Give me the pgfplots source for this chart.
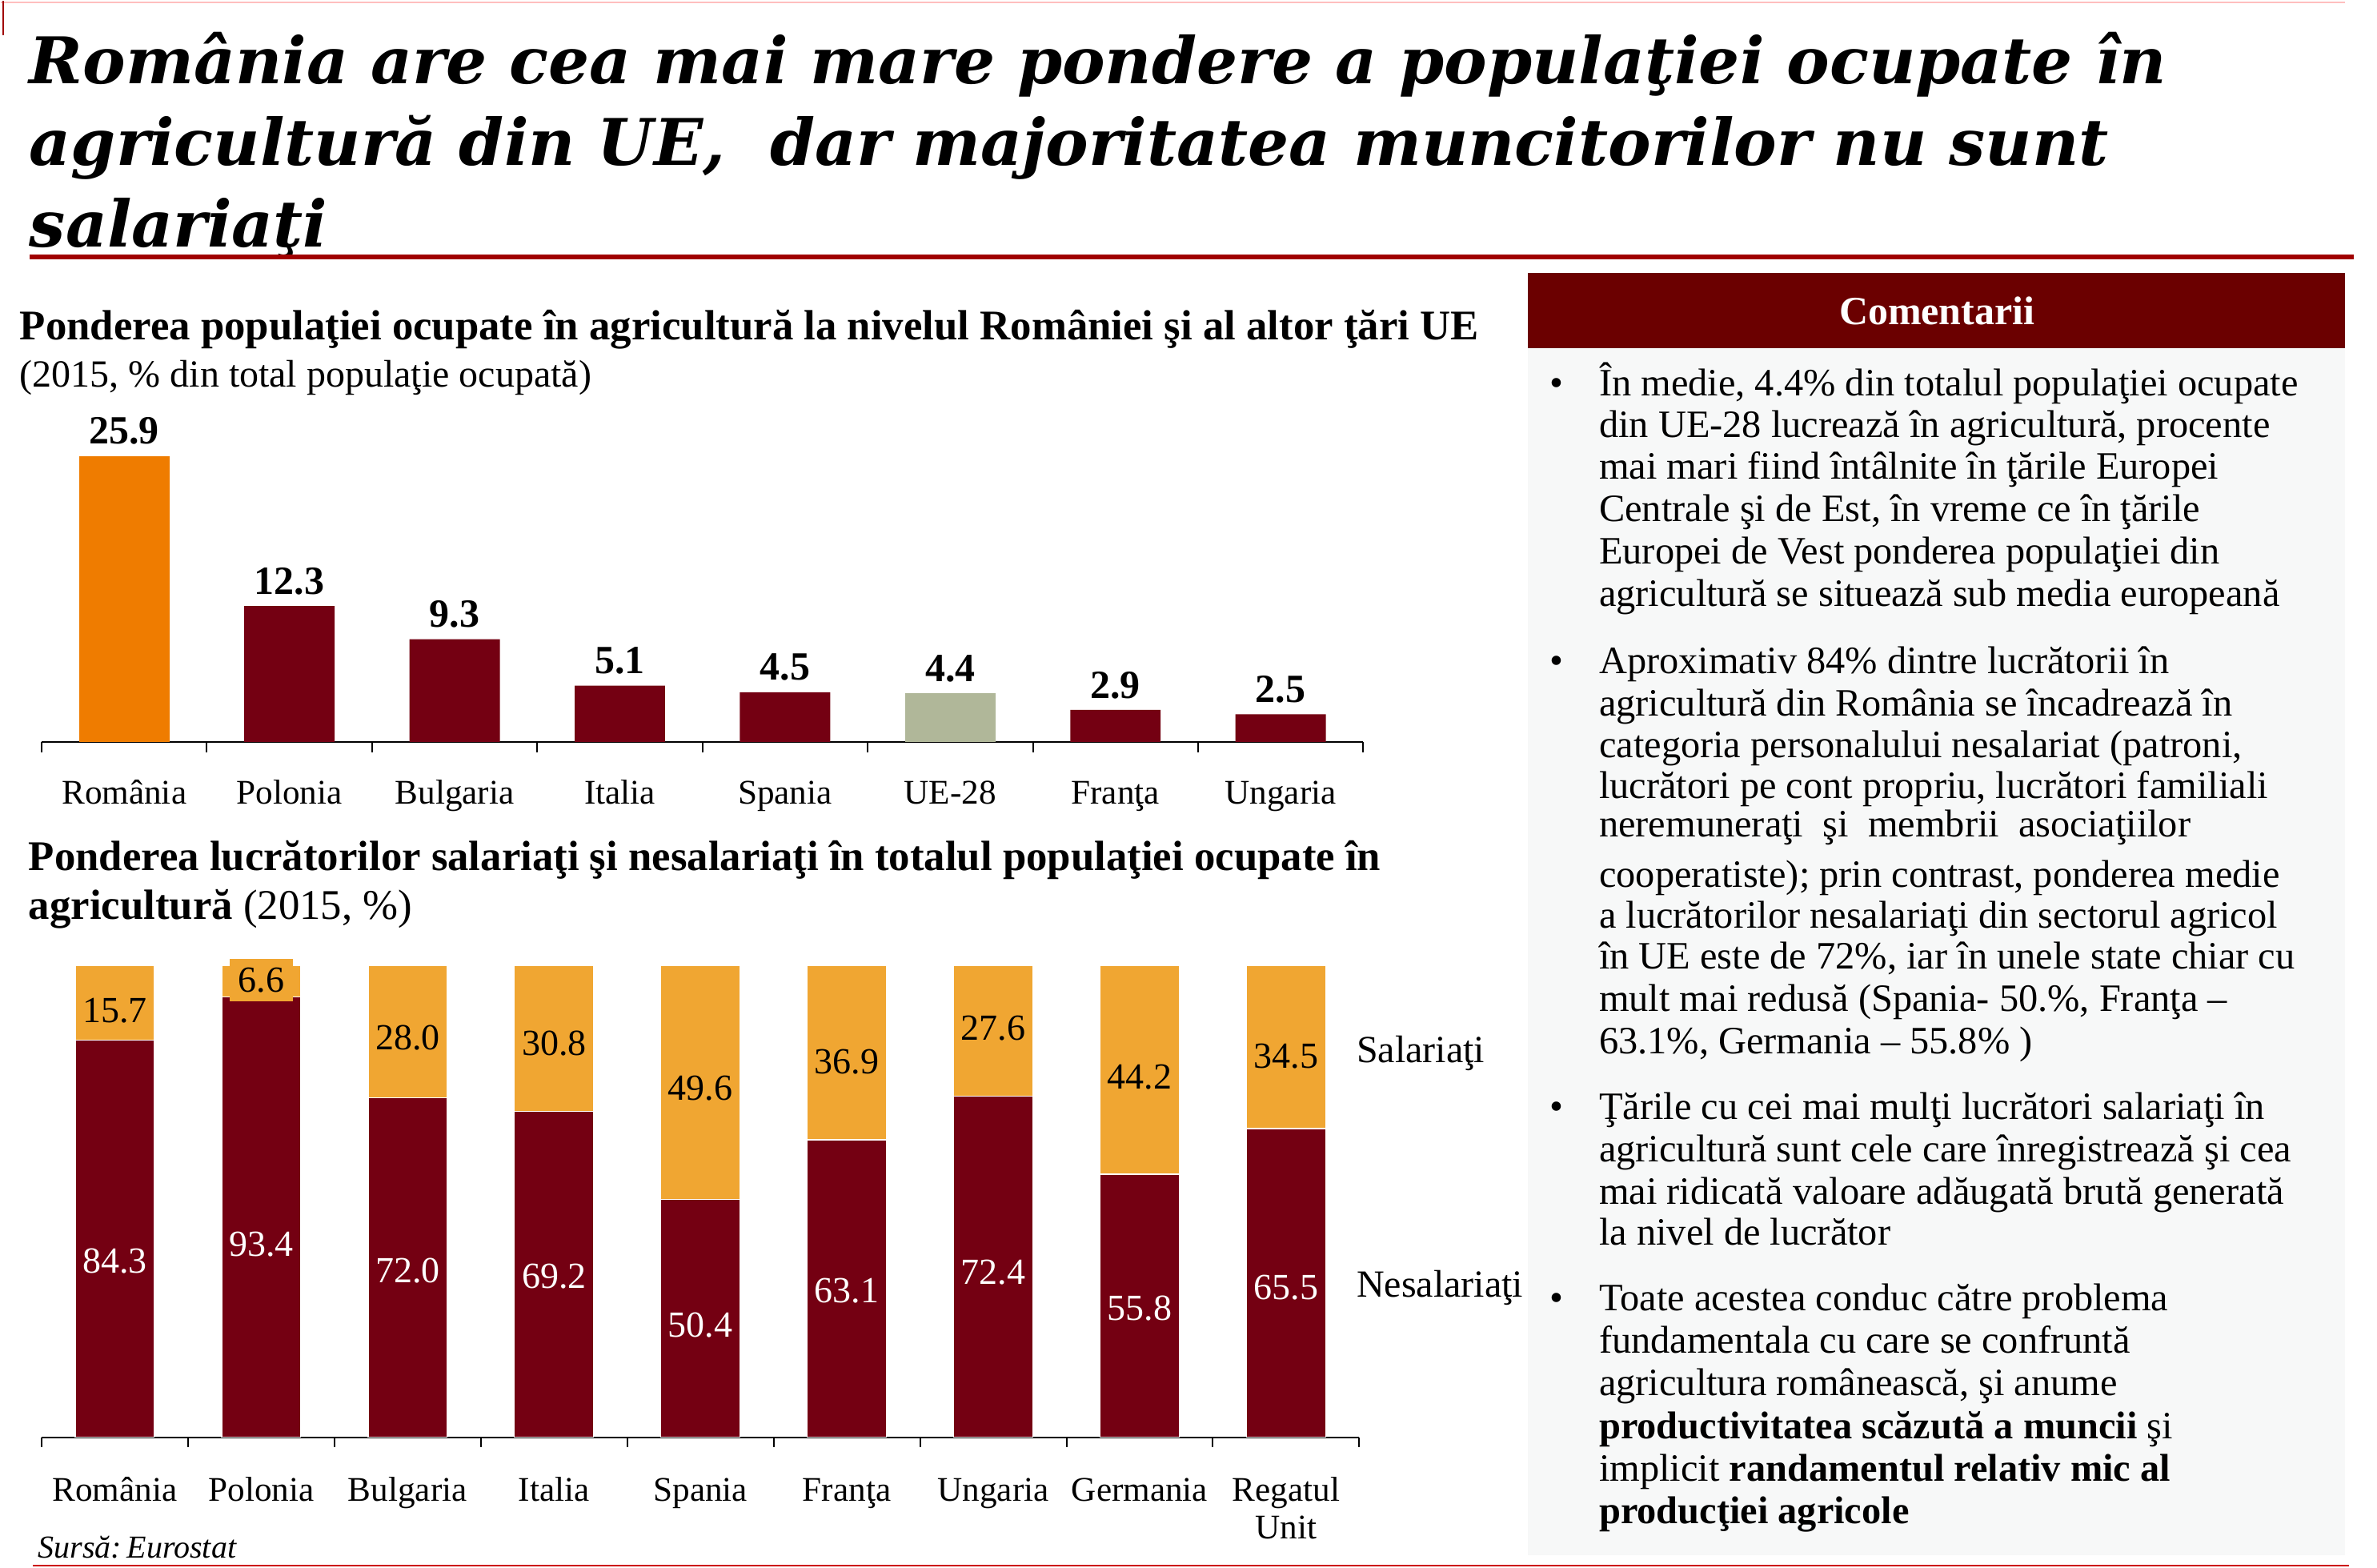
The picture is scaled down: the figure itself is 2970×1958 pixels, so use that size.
\documentclass[border=0pt]{standalone}
\usepackage{fontspec}
\setmainfont{Liberation Serif}
\newfontfamily\titlefont{DejaVu Serif}
\usepackage{pgfplots}
\pgfplotsset{compat=1.18}
\definecolor{darkred}{RGB}{116,0,18}
\definecolor{orangeA}{RGB}{239,124,0}
\definecolor{grayg}{RGB}{176,183,153}
\definecolor{orangeB}{RGB}{240,166,50}
\definecolor{headred}{RGB}{107,0,0}
\definecolor{rulered}{RGB}{160,0,0}
\definecolor{boxbg}{RGB}{247,248,248}
\newcommand\cmfont{\fontsize{12.1}{13}\selectfont}
\newcommand\cm[2]{\node[anchor=base west, inner sep=0pt, font=\cmfont] at (1997,#1) {#2};}
\newcommand\bl[1]{\node[anchor=base, inner sep=0pt, font=\cmfont] at (1945,#1) {•};}
\begin{document}
\begin{tikzpicture}
\begin{scope}[x=0.25pt,y=-0.25pt,yshift=489.5pt]
\fill[white] (0,0) rectangle (2970,1958);
\draw[red!25, line width=0.5pt] (0,2) -- (2930,2);
\draw[rulered, line width=0.6pt] (3,0) -- (3,43);
% title
\begin{scope}[every node/.style={anchor=base west, inner sep=0pt, font=\titlefont\bfseries\itshape\fontsize{20.1}{25}\selectfont}]
\node at (35,103) {România are cea mai mare pondere a populaţiei ocupate în};
\node at (35,205) {agricultură din UE,\ \ dar majoritatea muncitorilor nu sunt};
\node at (35,307) {salariaţi};
\end{scope}
\draw[rulered, line width=1.5pt] (36,320) -- (2941,320);
% chart titles
\node[anchor=base west, inner sep=0pt, font=\fontsize{13.2}{15}\selectfont\bfseries] at (23,423) {Ponderea populaţiei ocupate în agricultură la nivelul României şi al altor ţări UE};
\node[anchor=base west, inner sep=0pt, font=\fontsize{12}{14}\selectfont] at (23,482) {(2015, \% din total populaţie ocupată)};
\node[anchor=base west, inner sep=0pt, font=\fontsize{13.2}{15}\selectfont\bfseries] at (34,1087) {Ponderea lucrătorilor salariaţi şi nesalariaţi în totalul populaţiei ocupate în};
\node[anchor=base west, inner sep=0pt, font=\fontsize{13.2}{15}\selectfont] at (34,1148) {\textbf{agricultură} (2015, \%)};
% comment box
\fill[boxbg] (1909,434) rectangle (2930,1942);
\fill[headred] (1909,340) rectangle (2930,434);
\node[text=white, font=\fontsize{12.5}{15}\selectfont\bfseries] at (2420,387) {Comentarii};
\bl{493}
\cm{493}{În medie, 4.4\% din totalul populaţiei ocupate}
\cm{546}{din UE-28 lucrează în agricultură, procente}
\cm{598}{mai mari fiind întâlnite în ţările Europei}
\cm{651}{Centrale şi de Est, în vreme ce în ţările}
\cm{704}{Europei de Vest ponderea populaţiei din}
\cm{757}{agricultură se situează sub media europeană}
\bl{841}
\cm{841}{Aproximativ 84\% dintre lucrătorii în}
\cm{894}{agricultură din România se încadrează în}
\cm{946}{categoria personalului nesalariat (patroni,}
\cm{997}{lucrători pe cont propriu, lucrători familiali}
\cm{1045}{neremuneraţi\ \ şi\ \ membrii\ \ asociaţiilor}
\cm{1108}{cooperatiste); prin contrast, ponderea medie}
\cm{1159}{a lucrătorilor nesalariaţi din sectorul agricol}
\cm{1210}{în UE este de 72\%, iar în unele state chiar cu}
\cm{1263}{mult mai redusă (Spania- 50.\%, Franţa –}
\cm{1316}{63.1\%, Germania – 55.8\% )}
\bl{1398}
\cm{1398}{Ţările cu cei mai mulţi lucrători salariaţi în}
\cm{1451}{agricultură sunt cele care înregistrează şi cea}
\cm{1504}{mai ridicată valoare adăugată brută generată}
\cm{1555}{la nivel de lucrător}
\bl{1637}
\cm{1637}{Toate acestea conduc către problema}
\cm{1690}{fundamentala cu care se confruntă}
\cm{1743}{agricultura românească, şi anume}
\cm{1797}{\textbf{productivitatea scăzută a muncii} şi}
\cm{1850}{implicit \textbf{randamentul relativ mic al}}
\cm{1903}{\textbf{producţiei agricole}}
% series labels chart 2
\node[anchor=base west, inner sep=0pt, font=\fontsize{12}{14}\selectfont] at (1694,1327) {Salariaţi};
\node[anchor=base west, inner sep=0pt, font=\fontsize{12}{14}\selectfont] at (1694,1620) {Nesalariaţi};
% source
\node[anchor=base west, inner sep=0pt, font=\fontsize{10}{12}\selectfont\itshape] at (46,1946) {Sursă:\,Eurostat};
\draw[red!80!black, line width=0.5pt] (40,1955) -- (2935,1955);
\end{scope}

% ---------- chart 1 ----------
\begin{axis}[
  at={(12.75pt,258pt)}, anchor=south west,
  scale only axis, width=413pt, height=103.5pt,
  xmin=-0.5, xmax=7.5, ymin=0, ymax=30,
  axis x line*=bottom, axis y line=none,
  x axis line style={-, black, line width=0.5pt},
  ytick=\empty,
  xtick={0,...,7},
  xticklabels={România,Polonia,Bulgaria,Italia,Spania,UE-28,Franţa,Ungaria},
  minor xtick={-0.5,0.5,...,7.5},
  major tick length=0pt, minor tick length=3.2pt,
  xtick align=outside,
  every tick/.style={black, line width=0.5pt},
  xticklabel style={font=\fontsize{10.8}{13}\selectfont, anchor=base, yshift=-19.3pt, inner sep=0pt},
  /pgf/number format/assume math mode=true,
  ybar, bar width=0.547, bar shift=0pt,
  nodes near coords,
  nodes near coords style={font=\fontsize{12.5}{14}\selectfont\bfseries, text=black},
  clip=false,
]
\addplot[fill=orangeA, draw=none] coordinates {(0,25.9)};
\addplot[fill=darkred, draw=none] coordinates {(1,12.3) (2,9.3) (3,5.1) (4,4.5) (6,2.9) (7,2.5)};
\addplot[fill=grayg, draw=none] coordinates {(5,4.4)};
\end{axis}

% ---------- chart 2 ----------
\begin{axis}[
  at={(12.75pt,40.75pt)}, anchor=south west,
  scale only axis, width=411.75pt, height=147.25pt,
  xmin=-0.5, xmax=8.5, ymin=0, ymax=100,
  axis x line*=bottom, axis y line=none,
  x axis line style={-, black, line width=0.5pt},
  ytick=\empty,
  xtick={0,...,8},
  xticklabels={România,Polonia,Bulgaria,Italia,Spania,Franţa,Ungaria,Germania,{\begin{tabular}[t]{@{}c@{}}Regatul\\Unit\end{tabular}}},
  minor xtick={-0.5,0.5,...,8.5},
  major tick length=0pt, minor tick length=3pt,
  xtick align=outside,
  every tick/.style={black, line width=0.5pt},
  xticklabel style={font=\fontsize{10.8}{11.7}\selectfont, anchor=base, yshift=-20pt, inner sep=0pt},
  ybar stacked, bar width=0.54,
  clip=false,
]
\addplot[fill=darkred, draw=white, line width=0.3pt] coordinates {(0,84.3) (1,93.4) (2,72.0) (3,69.2) (4,50.4) (5,63.1) (6,72.4) (7,55.8) (8,65.5)};
\addplot[fill=orangeB, draw=white, line width=0.3pt] coordinates {(0,15.7) (1,6.6) (2,28.0) (3,30.8) (4,49.6) (5,36.9) (6,27.6) (7,44.2) (8,34.5)};
\end{axis}

% ---------- chart 2 labels ----------
\begin{axis}[
  at={(12.75pt,40.75pt)}, anchor=south west,
  scale only axis, width=411.75pt, height=147.25pt,
  xmin=-0.5, xmax=8.5, ymin=0, ymax=100,
  hide axis, clip=false,
]
\addplot[only marks, mark=*, mark size=0pt, mark options={draw=none, fill=none},
  nodes near coords, point meta=explicit symbolic,
  nodes near coords style={anchor=center, text=white, font=\fontsize{11.5}{13}\selectfont}]
  coordinates {(0,37.3) [84.3] (1,41.0) [93.4] (2,35.3) [72.0] (3,34.2) [69.2] (4,23.8) [50.4] (5,31.0) [63.1] (6,34.9) [72.4] (7,27.4) [55.8] (8,31.8) [65.5]};
\addplot[only marks, mark=*, mark size=0pt, mark options={draw=none, fill=none},
  nodes near coords, point meta=explicit symbolic,
  nodes near coords style={anchor=center, text=black, font=\fontsize{11.5}{13}\selectfont}]
  coordinates {(0,90.5) [15.7] (2,84.7) [28.0] (3,83.6) [30.8] (4,74.1) [49.6] (5,79.6) [36.9] (6,86.7) [27.6] (7,76.5) [44.2] (8,80.9) [34.5]};
\addplot[only marks, mark=*, mark size=0pt, mark options={draw=none, fill=none},
  nodes near coords, point meta=explicit symbolic,
  nodes near coords style={anchor=center, text=black, fill=orangeB, inner sep=0pt, minimum width=19.75pt, minimum height=13.25pt, font=\fontsize{11.5}{13}\selectfont}]
  coordinates {(1,97.0) [6.6]};
\end{axis}
\end{tikzpicture}
\end{document}
